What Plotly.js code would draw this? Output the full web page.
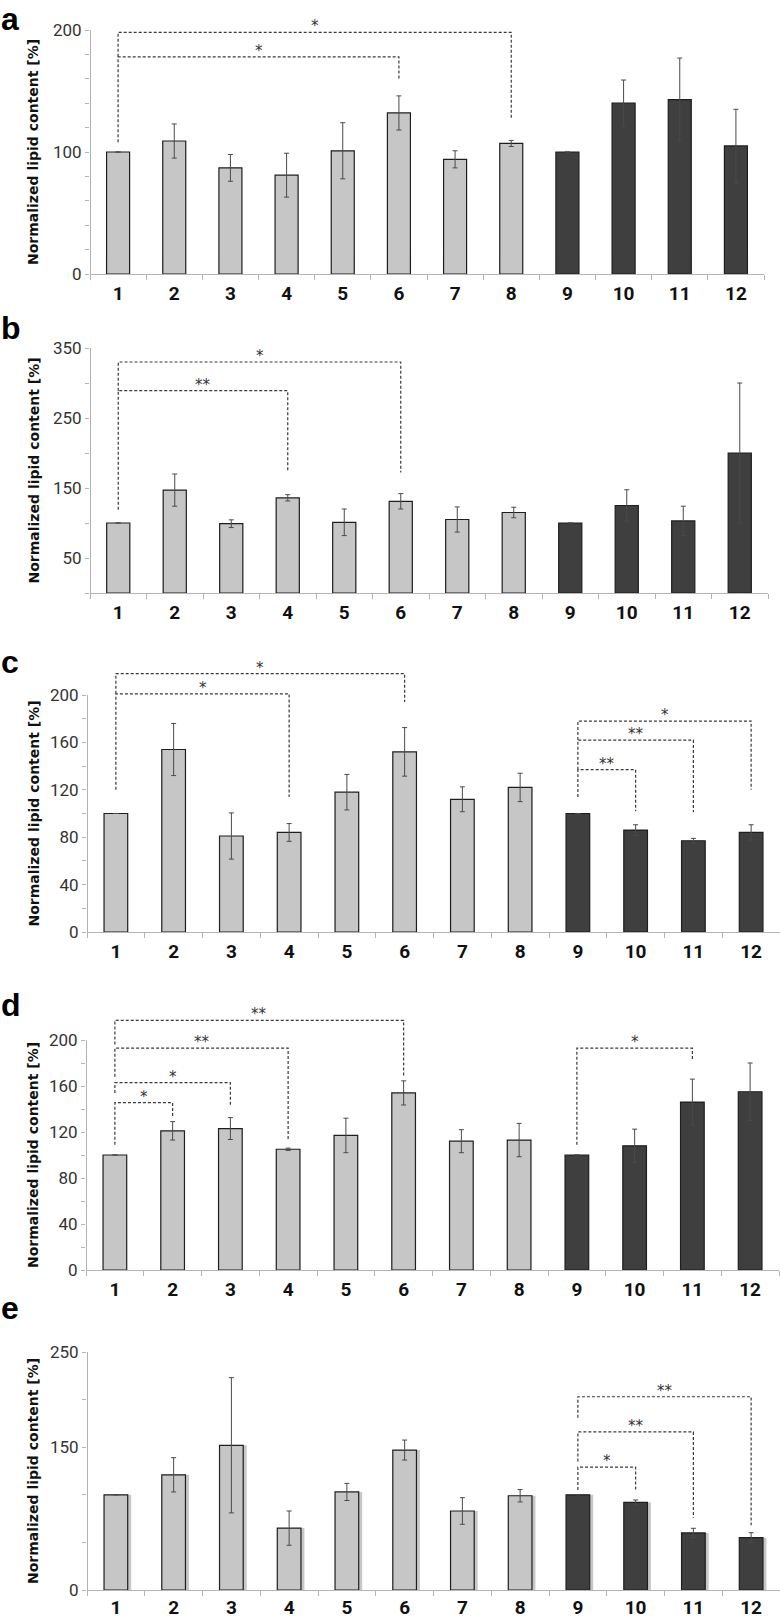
<!DOCTYPE html>
<html>
<head>
<meta charset="utf-8">
<script src="https://cdn.plot.ly/plotly-3.0.1.min.js"></script>
<style>
html,body{margin:0;padding:0;background:#fff;}
#chart{width:780px;height:1619px;}
</style>
</head>
<body>
<div id="chart"></div>
<script>
// ---------------- DATA ----------------
const groups = ['1','2','3','4','5','6','7','8','9','10','11','12'];

const valuesA = [100, 109, 87, 81, 101, 132, 94, 107, 100, 140, 143, 105];
const errorsA = [0, 14, 11, 18, 23, 14, 7, 2.5, 0, 19, 34, 30];
const valuesB = [100, 147, 99, 136, 101, 131, 105, 115, 100, 125, 103, 200];
const errorsB = [0, 23, 5.5, 4.5, 19, 11, 18, 7.5, 0, 22.5, 21, 100];
const valuesC = [100, 154, 81, 84, 118, 152, 112, 122, 100, 86, 77, 84];
const errorsC = [0, 22, 19.5, 7.5, 15, 20.5, 10.5, 12, 0, 4.5, 2, 6.5];
const valuesD = [100, 121, 123, 105, 117, 154, 112, 113, 100, 108, 146, 155];
const errorsD = [0, 8, 9.5, 1, 15, 10.5, 10, 14.5, 0, 14.5, 20, 25];
const valuesE = [100, 121, 152, 65, 103, 147, 83, 99, 100, 92, 60, 55];
const errorsE = [0, 18, 71, 18, 9, 10.5, 14, 6.5, 0, 2.6, 4.8, 5.2];

// significance brackets: [from group, to group, bracket level, left end, right end, label]
const bracketsA = [[1, 8, 198, 178, 127, '*'], [1, 6, 178, 108, 159, '*']];
const bracketsB = [[1, 6, 330, 289, 172, '*'], [1, 4, 289, 119, 175, '**']];
const bracketsC = [[1, 6, 218, 201, 194, '*'], [1, 4, 201, 120, 114, '*'],
                   [9, 12, 178, 162, 120, '*'], [9, 11, 162, 137, 101, '**'], [9, 10, 137, 114, 102, '**']];
const bracketsD = [[1, 6, 217, 196, 168, '**'], [1, 4, 193, 168, 114, '**'], [1, 3, 163, 154, 143, '*'],
                   [1, 2, 145.5, 109, 134, '*'], [9, 11, 193, 109, 182, '*']];
const bracketsE = [[9, 12, 203, 181, 68, '**'], [9, 11, 166, 135, 76, '**'], [9, 10, 129, 105, 105, '*']];

// y tick labels
const yTicksA = [0, 100, 200];
const yTicksB = [50, 150, 250, 350];
const yTicksC = [0, 40, 80, 120, 160, 200];
const yTicksD = [0, 40, 80, 120, 160, 200];
const yTicksE = [0, 150, 250];

const yTitle = 'Normalized lipid content [%]';

// ---------------- LAYOUT GEOMETRY ----------------
const W = 780, H = 1619;
const panels = [
  {letter:'a', values:valuesA, errors:errorsA, brackets:bracketsA, ticks:yTicksA, minor:20, axisTop:200, shadow:false,
   g:{x0:90, x1:764, y0:274, ppu:1.22, letterTop:0, standoff:2}},
  {letter:'b', values:valuesB, errors:errorsB, brackets:bracketsB, ticks:yTicksB, minor:50, axisTop:350, shadow:false,
   g:{x0:90, x1:768, y0:593, ppu:0.70, letterTop:309, standoff:2}},
  {letter:'c', values:valuesC, errors:errorsC, brackets:bracketsC, ticks:yTicksC, minor:20, axisTop:200, shadow:false,
   g:{x0:87, x1:780, y0:932, ppu:1.185, letterTop:643, standoff:2}},
  {letter:'d', values:valuesD, errors:errorsD, brackets:bracketsD, ticks:yTicksD, minor:20, axisTop:200, shadow:false,
   g:{x0:86, x1:779, y0:1270, ppu:1.15, letterTop:986, standoff:2}},
  {letter:'e', values:valuesE, errors:errorsE, brackets:bracketsE, ticks:yTicksE, minor:50, axisTop:250, shadow:true,
   g:{x0:87, x1:780, y0:1590, ppu:0.952, letterTop:1289, standoff:0}}
];

const axisGrey = '#b4b4b4';
const lightFill = '#c6c6c6';
const darkFill = '#3f3f3f';
const xNum = groups.map((_, i) => i + 1);

const data = [], shapes = [], annotations = [];
const layout = {
  width: W, height: H,
  margin: {l:0, r:0, t:0, b:0},
  paper_bgcolor: '#ffffff', plot_bgcolor: 'rgba(0,0,0,0)',
  barmode: 'overlay', bargap: 0.59, showlegend: false,
  font: {family: 'DejaVu Sans', color: '#222'}
};

panels.forEach((p, i) => {
  const s = i === 0 ? '' : String(i + 1);
  const xa = 'x' + s, ya = 'y' + s;
  const g = p.g;
  const maxLevel = Math.max(...p.brackets.map(b => b[2]));
  const rangeTop = Math.max(p.axisTop, maxLevel + 4);
  const yBot = 1 - g.y0 / H;
  const yTop = 1 - (g.y0 - rangeTop * g.ppu) / H;

  const minorVals = [];
  for (let v = 0; v <= p.axisTop + 1e-9; v += p.minor) minorVals.push(v);

  layout['xaxis' + s] = {
    domain: [g.x0 / W, Math.min(1, g.x1 / W)], range: [0.5, 12.5], anchor: ya,
    tickmode: 'array', tickvals: xNum, ticktext: groups, ticks: '',
    ticklabelstandoff: g.standoff,
    minor: {tickmode: 'linear', tick0: 0.5, dtick: 1, ticks: 'outside', ticklen: 5, tickcolor: axisGrey, tickwidth: 1},
    showline: true, linecolor: axisGrey, linewidth: 1,
    showgrid: false, zeroline: false, fixedrange: true,
    tickfont: {family: 'Liberation Sans Narrow, Roboto, Arial, sans-serif', size: 19, weight: 'bold', color: '#111'}
  };
  layout['yaxis' + s] = {
    domain: [yBot, yTop], range: [0, rangeTop], anchor: xa,
    tickmode: 'array', tickvals: p.ticks, ticktext: p.ticks.map(String),
    ticks: 'outside', ticklen: 4, tickcolor: axisGrey, tickwidth: 1,
    minor: {tickmode: 'array', tickvals: minorVals, ticks: 'outside', ticklen: 4, tickcolor: axisGrey, tickwidth: 1},
    showline: false, showgrid: false, zeroline: false, fixedrange: true,
    tickfont: {family: 'Roboto, Open Sans, sans-serif', size: 17, color: '#333'}
  };

  // y-axis line (drawn only up to the top labelled tick)
  shapes.push({type: 'line', xref: xa, yref: ya, x0: 0.5, x1: 0.5, y0: 0, y1: p.axisTop,
               line: {color: axisGrey, width: 2}, layer: 'below'});

  const isDark = xNum.map(x => x >= 9);

  if (p.shadow) {
    data.push({
      type: 'bar', x: xNum, y: p.values, xaxis: xa, yaxis: ya,
      width: 0.41, offset: -0.205 + 0.06,
      marker: {color: 'rgba(0,0,0,0.22)', line: {width: 0}},
      hoverinfo: 'skip'
    });
  }

  data.push({
    type: 'bar', x: xNum, y: p.values, xaxis: xa, yaxis: ya,
    width: 0.41,
    marker: {
      color: isDark.map(d => d ? darkFill : lightFill),
      line: {color: '#1e1e1e', width: 1.2}
    },
    error_y: {type: 'data', array: p.errors, visible: true, color: '#4a4a4a', thickness: 1, width: 2.5},
    hoverinfo: 'skip'
  });

  // significance brackets
  p.brackets.forEach(b => {
    const [from, to, level, leftEnd, rightEnd, label] = b;
    shapes.push({
      type: 'path', xref: xa, yref: ya,
      path: `M ${from},${leftEnd} L ${from},${level} L ${to},${level} L ${to},${rightEnd}`,
      line: {color: '#3a3a3a', width: 1.2, dash: '3px,2px'}
    });
    annotations.push({
      xref: xa, yref: ya, x: (from + to) / 2, y: level, text: label,
      showarrow: false, xanchor: 'center', yanchor: 'bottom', yshift: -5,
      font: {family: 'DejaVu Sans', size: 15, color: '#333'}
    });
  });

  // panel letter
  annotations.push({
    xref: 'paper', yref: 'paper', x: 0, y: 1 - g.letterTop / H, text: p.letter,
    showarrow: false, xanchor: 'left', yanchor: 'top', borderpad: 0,
    font: {family: 'Liberation Sans, Arial, sans-serif', size: 32, weight: 'bold', color: '#000'}
  });

  // y-axis title
  const centerPx = g.y0 - p.axisTop * g.ppu / 2;
  annotations.push({
    xref: 'paper', yref: 'paper', x: 33 / W, y: 1 - centerPx / H, text: yTitle,
    textangle: -90, showarrow: false, xanchor: 'center', yanchor: 'middle',
    font: {family: 'DejaVu Sans', size: 14, weight: 'bold', color: '#111'}
  });
});

layout.shapes = shapes;
layout.annotations = annotations;

Plotly.newPlot('chart', data, layout, {staticPlot: true, displayModeBar: false});
</script>
</body>
</html>
